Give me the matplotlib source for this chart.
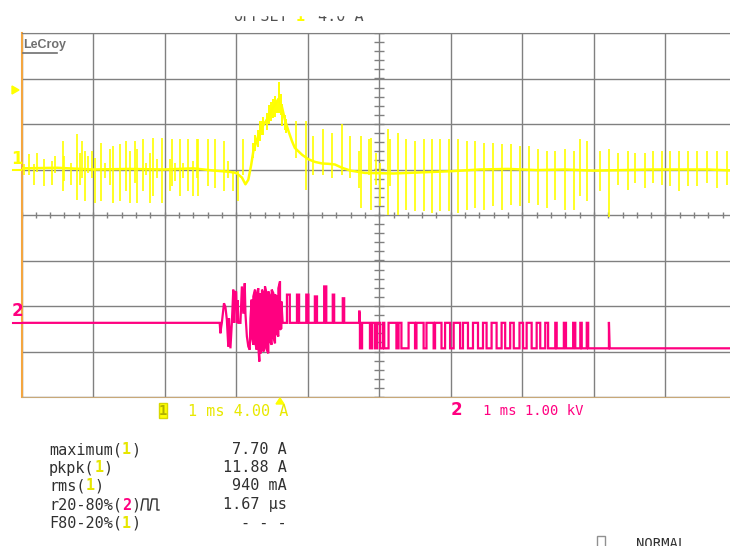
import numpy as np
import matplotlib
matplotlib.use("Agg")
import matplotlib.pyplot as plt
from matplotlib.patches import Polygon, Rectangle
from matplotlib.lines import Line2D

W, H = 730, 546
YELLOW = "#ffff00"
PINK = "#ff0080"
GRID = "#808080"
TEXT = "#303030"
MONO = "DejaVu Sans Mono"

# ---- channel 1: current probe, 4 A/div, time in ms ----
ch1_base_t = [0.0, 0.5, 1.0, 1.5, 2.0, 2.4, 2.7, 2.9, 3.00, 3.08, 3.13, 3.17, 3.21, 3.24,
              3.31, 3.36, 3.40, 3.45, 3.50, 3.54, 3.59, 3.64, 3.68, 3.73, 3.78, 3.82, 3.92,
              4.01, 4.10, 4.20, 4.29, 4.38, 4.48, 4.60, 4.80, 5.2, 5.6, 6.0, 6.4, 6.8, 7.2,
              7.6, 8.0, 8.4, 8.8, 9.2, 9.6, 10.0]
ch1_base_a = [0.1, 0.15, 0.0, 0.05, 0.0, 0.1, -0.1, -0.2, -0.3, -0.7, -1.3, -0.9, 0.4, 1.6,
              3.0, 3.7, 4.1, 4.6, 5.3, 5.7, 6.2, 5.5, 4.4, 3.4, 2.5, 1.9, 1.3,
              0.9, 0.67, 0.53, 0.5, 0.44, 0.15, -0.1, -0.3, -0.35, -0.25, -0.15, 0.0, 0.05, -0.05,
              0.0, -0.1, -0.05, 0.0, 0.0, 0.0, -0.1]

ch1_spike_t = [0.03, 0.10, 0.17, 0.22, 0.31, 0.43, 0.47, 0.58, 0.60, 0.69, 0.77, 0.82, 0.84,
               0.89, 0.93, 0.98, 1.03, 1.11, 1.17, 1.24, 1.28, 1.38, 1.46, 1.52, 1.59, 1.62,
               1.70, 1.74, 1.80, 1.84, 1.90, 1.97, 2.08, 2.10, 2.15, 2.22, 2.26, 2.33, 2.40,
               2.45, 2.47, 2.60, 2.71, 2.83, 2.89, 2.96, 3.02, 3.10,
               3.84, 3.97, 4.08, 4.22, 4.34, 4.48, 4.59, 4.71, 4.75, 4.85, 4.89,
               4.96, 5.01, 5.12, 5.15, 5.26, 5.38, 5.50, 5.62, 5.74, 5.85, 5.97, 6.10,
               6.22, 6.34, 6.47, 6.59, 6.71, 6.84, 6.97, 7.09, 7.22, 7.35,
               7.46, 7.60, 7.72, 7.80, 7.90, 8.09, 8.21, 8.34, 8.47, 8.57, 8.71, 8.83,
               8.95, 9.07, 9.19, 9.32, 9.44, 9.58, 9.72, 9.86]
ch1_spike_hi = [0.44, 1.32, 0.44, 1.47, 0.88, 0.73, 1.17, 2.49, 1.17, 0.59, 3.08, 1.47, 2.49,
                1.61, 1.17, 1.61, 1.0, 2.34, 0.59, 1.76, 2.05, 2.2, 2.49, 1.61, 2.49, 1.76,
                2.64, 0.59, 1.47, 2.78, 0.88, 2.78, 0.88, 2.64, 0.59, 2.64, 0.59, 2.64, 0.73,
                2.64, 2.64, 2.64, 2.64, 2.49, 0.73, -0.1, -0.1, 2.64,
                4.25, 4.25, 2.93, 3.52, 3.22, 3.96, 2.93, 1.61, 2.93, 2.64, 2.78,
                1.47, 0.59, 3.52, 2.64, 3.22, 2.64, 2.49, 2.64, 2.64, 2.64, 2.64, 2.64,
                2.49, 2.49, 2.34, 2.34, 2.2, 2.2, 2.05, 2.05, 1.76, 1.61,
                1.61, 1.76, 1.61, 2.64, 2.49, 1.61, 1.76, 1.47, 1.61, 1.47, 1.47, 1.61,
                1.61, 1.61, 1.61, 1.61, 1.61, 1.61, 1.61, 1.61]
ch1_spike_lo = [-0.44, -0.44, -1.32, -0.2, -1.47, -1.32, -0.3, -1.9, -1.03, -1.32, -2.64, -1.32, -0.73,
                -2.78, -0.3, -0.73, -2.93, -2.78, -0.73, -1.32, -2.93, -2.78, -1.9, -2.93, -1.17, -2.93,
                -1.9, -0.44, -2.93, -2.34, -0.73, -2.93, -1.9, -1.47, -1.03, -2.34, -0.73, -1.9, -2.34,
                -0.73, -2.34, -1.47, -1.61, -1.9, -0.73, -1.9, -2.78, -0.44,
                1.03, -1.76, -0.44, -0.44, -0.73, -0.44, -0.73, -1.61, -3.37, -0.44, -3.52,
                -1.32, -3.22, -3.96, -1.47, -3.96, -3.52, -3.66, -3.66, -3.81, -3.66, -3.66, -3.81,
                -3.52, -3.37, -3.52, -3.22, -3.52, -3.08, -3.22, -2.93, -3.08, -3.37,
                -2.64, -3.52, -3.52, -2.34, -2.78, -1.9, -4.18, -1.32, -1.76, -1.17, -1.61, -1.17,
                -1.32, -1.47, -1.9, -1.47, -1.47, -1.17, -1.61, -1.32]

# noisy band on the current pulse
ch1_hump_t = [3.23, 3.27, 3.30, 3.34, 3.36, 3.38, 3.43, 3.46, 3.49, 3.52, 3.54, 3.57, 3.60,
              3.62, 3.64, 3.68, 3.70]
ch1_hump_hi = [2.3, 3.0, 3.5, 4.3, 4.25, 4.6, 5.0, 5.7, 5.9, 6.2, 6.5, 6.0, 7.70,
               6.6, 5.8, 4.8, 4.4]
ch1_hump_lo = [1.0, 1.6, 2.0, 2.5, 3.0, 3.0, 3.5, 4.0, 4.3, 4.5, 4.6, 5.0, 5.0,
               4.8, 3.8, 3.5, 3.2]

# ---- channel 2: voltage, 1 kV/div ----
ch2_lead_t = [0.0, 2.77, 2.78, 2.79, 2.80, 2.83, 2.85, 2.87, 2.89, 2.90, 2.92, 2.94, 2.96,
              2.97, 2.98, 3.00, 3.01, 3.02, 3.03, 3.06, 3.08, 3.10, 3.12, 3.13, 3.15,
              3.17, 3.19, 3.20]
ch2_lead_kv = [0.0, 0.0, -0.23, -0.1, 0.0, 0.43, 0.35, 0.07, -0.52, 0.1, -0.56, 0.0, 0.73,
               0.0, 0.66, 0.69, 0.0, 0.5, 0.0, 0.0, 0.80, 0.2, 0.87, 0.2, -0.3,
               -0.52, -0.59, 0.1]

ch2_burst_t = [3.217, 3.240, 3.264, 3.287, 3.310, 3.324, 3.343, 3.361, 3.380, 3.403,
               3.427, 3.450, 3.473, 3.497, 3.520, 3.543, 3.566, 3.590, 3.613, 3.632]
ch2_burst_top = [0.51, 0.58, 0.73, 0.62, 0.76, 0.65, 0.54, 0.73, 0.65, 0.80,
                 0.62, 0.69, 0.58, 0.73, 0.65, 0.62, 0.58, 0.76, 0.91, 0.47]
ch2_burst_bot = [-0.30, -0.48, -0.41, -0.59, -0.52, -0.85, -0.67, -0.48, -0.63, -0.52,
                 -0.59, -0.67, -0.41, -0.48, -0.30, -0.45, -0.23, -0.30, -0.15, -0.12]

ch2_pulse_start = [3.71, 3.85, 3.98, 4.10, 4.23, 4.35, 4.49, 4.72]
ch2_pulse_end = [3.75, 3.88, 4.01, 4.13, 4.26, 4.37, 4.51, 4.725]
ch2_pulse_kv = [0.62, 0.62, 0.62, 0.58, 0.80, 0.62, 0.54, 0.25]

ch2_low_kv = -0.56
ch2_low_start = [4.73, 4.87, 4.94, 5.01, 5.07, 5.24, 5.31, 5.50, 5.62, 5.76, 5.87, 5.99, 6.13,
                 6.24, 6.38, 6.50, 6.64, 6.76, 6.88, 7.01, 7.13, 7.25, 7.36, 7.48, 7.61,
                 7.74, 7.83]
ch2_low_end = [4.76, 4.90, 4.97, 5.05, 5.13, 5.27, 5.41, 5.52, 5.66, 5.78, 5.92, 6.04, 6.17,
               6.31, 6.45, 6.57, 6.71, 6.83, 6.96, 7.06, 7.20, 7.32, 7.46, 7.58, 7.71,
               7.81, 7.90]

ch2_tail_t = [7.92, 7.92, 8.21, 8.21, 8.22, 10.0]
ch2_tail_kv = [0.0, -0.56, -0.56, 0.02, -0.56, -0.56]

# scope settings
ch1_amps_per_div = 4.0
ch1_offset_div = 1.0
ch2_kv_per_div = 1.0
ch2_offset_div = -2.37

meas_labels = ["maximum(1)", "pkpk(1)", "rms(1)", "r20-80%(2)", "F80-20%(1)"]
meas_values = ["7.70 A", "11.88 A", "940 mA", "1.67 \u03bcs", "- - -"]


def fx(x):
    return x / W


def fy(y):
    return 1 - y / H


# build channel 2 waveform vertices
t2 = list(ch2_lead_t)
v2 = list(ch2_lead_kv)
for i, (tt, top, bot) in enumerate(zip(ch2_burst_t, ch2_burst_top, ch2_burst_bot)):
    t2 += [tt, tt]
    v2 += [top, bot] if i % 2 == 0 else [bot, top]
t2.append(3.65)
v2.append(0.0)
for t0, t1, h in zip(ch2_pulse_start, ch2_pulse_end, ch2_pulse_kv):
    t2 += [t0, t0, t1, t1]
    v2 += [0.0, h, h, 0.0]
for t0, t1 in zip(ch2_low_start, ch2_low_end):
    t2 += [t0, t0, t1, t1]
    v2 += [0.0, ch2_low_kv, ch2_low_kv, 0.0]
t2 += ch2_tail_t
v2 += ch2_tail_kv

fig = plt.figure(figsize=(W / 100, H / 100), dpi=100)
fig.patch.set_facecolor("white")

ax = fig.add_axes([fx(21.5), fy(397), 715.5 / W, 364 / H])
ax.set_xlim(0, 10)
c1 = -ch1_offset_div * ch1_amps_per_div
ax.set_ylim(c1 - 4 * ch1_amps_per_div, c1 + 4 * ch1_amps_per_div)
ax.set_xticks(np.arange(0, 11))
ax.set_yticks(np.arange(c1 - 4 * ch1_amps_per_div, c1 + 4 * ch1_amps_per_div + 0.1, ch1_amps_per_div))
ax.grid(True, color=GRID, lw=1.0)
ax.tick_params(length=0, labelbottom=False, labelleft=False)
for side in ["top", "right"]:
    ax.spines[side].set_color(GRID)
ax.spines["left"].set_color("#f4a640")
ax.spines["left"].set_linewidth(1.5)
ax.spines["bottom"].set_color("#c8a878")

# small division ticks on the centre cross
ax.plot(np.arange(0, 10.01, 0.2), np.full(51, c1), ls="none", marker="|",
        ms=5, mew=1.0, color=GRID, zorder=1.6)
yt = np.arange(c1 - 16, c1 + 16.01, 0.8)
ax.plot(np.full(len(yt), 5.0), yt, ls="none", marker="_", ms=7.5, mew=1.0,
        color=GRID, zorder=1.6)

# channel 1 trace
ax.plot(ch1_base_t, ch1_base_a, color=YELLOW, lw=1.8, zorder=3)
ax.vlines(ch1_spike_t, ch1_spike_lo, ch1_spike_hi, color=YELLOW, lw=1.2, zorder=3)
ax.vlines(ch1_hump_t, ch1_hump_lo, ch1_hump_hi, color=YELLOW, lw=1.4, zorder=3)

# channel 2 trace on its own scale
ax2 = ax.twinx()
c2 = -ch2_offset_div * ch2_kv_per_div
ax2.set_ylim(c2 - 4 * ch2_kv_per_div, c2 + 4 * ch2_kv_per_div)
ax2.axis("off")
ax2.plot(t2, v2, color=PINK, lw=1.6, solid_joinstyle="miter")

# LeCroy logo
fig.text(fx(23), fy(45), "LeCroy", fontsize=9, fontweight="bold", color="#707070",
         ha="left", va="center", family="Liberation Sans")
fig.add_artist(Line2D([fx(23), fx(57)], [fy(53), fy(53)], color="#707070", lw=1.2))

# channel ground markers
fig.text(fx(17), fy(159), "1", fontsize=12, color=YELLOW, ha="center", va="center",
         fontweight="bold")
fig.add_artist(Line2D([fx(13), fx(21)], [fy(170), fy(170)], color=YELLOW, lw=1.5))
fig.text(fx(17), fy(311), "2", fontsize=12, color=PINK, ha="center", va="center",
         fontweight="bold")
fig.add_artist(Line2D([fx(13), fx(21)], [fy(323), fy(323)], color=PINK, lw=1.5))

# trigger markers
fig.add_artist(Polygon([[fx(12), fy(86)], [fx(12), fy(94)], [fx(19), fy(90)]],
                       closed=True, color=YELLOW, transform=fig.transFigure))
fig.add_artist(Polygon([[fx(276), fy(404)], [fx(284), fy(404)], [fx(280), fy(398)]],
                       closed=True, color=YELLOW, transform=fig.transFigure))

# offset readout, upper half hidden
fig.text(fx(233), fy(21), "OFFSET", family=MONO, fontsize=10.9, color="#505050",
         ha="left", va="baseline")
fig.text(fx(300), fy(21), "1", family=MONO, fontsize=10.9, color=YELLOW,
         ha="center", va="baseline", fontweight="bold")
fig.text(fx(318), fy(21), "4.0 A", family=MONO, fontsize=10.9, color="#505050",
         ha="left", va="baseline")
fig.add_artist(Rectangle((0, fy(15)), 1, 15 / H, transform=fig.transFigure,
                         color="white", zorder=10))

# timebase / vertical scale line
fig.add_artist(Rectangle((fx(159), fy(418)), 8 / W, 15 / H, transform=fig.transFigure,
                         fc=YELLOW, ec="#d8d800", lw=1))
fig.text(fx(163), fy(411), "1", family=MONO, fontsize=10, color="#b0b000",
         ha="center", va="center", fontweight="bold")
fig.text(fx(188), fy(411), "1 ms 4.00 A", family=MONO, fontsize=10.9, color="#e8e800",
         ha="left", va="center")
fig.text(fx(456), fy(410), "2", fontsize=12, color=PINK, ha="center", va="center",
         fontweight="bold")
fig.text(fx(483), fy(411), "1 ms 1.00 kV", family=MONO, fontsize=10, color=PINK,
         ha="left", va="center")

# measurement table: label text, coloured channel digit, closing bracket
char_w = 0.602 * 10.9 * 100 / 72
row_y = [450, 468, 486, 505, 523]
for label, value, y in zip(meas_labels, meas_values, row_y):
    k = label.index("(") + 1
    ch = label[k]
    fig.text(fx(49), fy(y), label[:k], family=MONO, fontsize=10.9,
             color=TEXT, ha="left", va="center")
    fig.text(fx(49 + k * char_w), fy(y), ch, family=MONO, fontsize=10.9,
             color=PINK if ch == "2" else "#e6e600", ha="left", va="center",
             fontweight="bold")
    fig.text(fx(49 + (k + 1) * char_w), fy(y), label[k + 1:], family=MONO, fontsize=10.9,
             color=TEXT, ha="left", va="center")
    fig.text(fx(287), fy(y), value, family=MONO, fontsize=10.9, color=TEXT,
             ha="right", va="center")

# pulse glyph after the rise-time label
gx = [141, 143, 148, 148, 150, 152, 157, 157, 159]
gy = [510, 499, 499, 510, 510, 499, 499, 510, 510]
fig.add_artist(Line2D([fx(x) for x in gx], [fy(y) for y in gy], color=TEXT, lw=1.0))

# trigger mode, cut at the lower edge
fig.add_artist(Rectangle((fx(597), fy(550)), 8 / W, 14 / H, transform=fig.transFigure,
                         fc="none", ec="#909090", lw=1))
fig.text(fx(636), fy(537), "NORMAL", family=MONO, fontsize=10, color=TEXT,
         ha="left", va="top")

fig.savefig("out.png", dpi=100)
